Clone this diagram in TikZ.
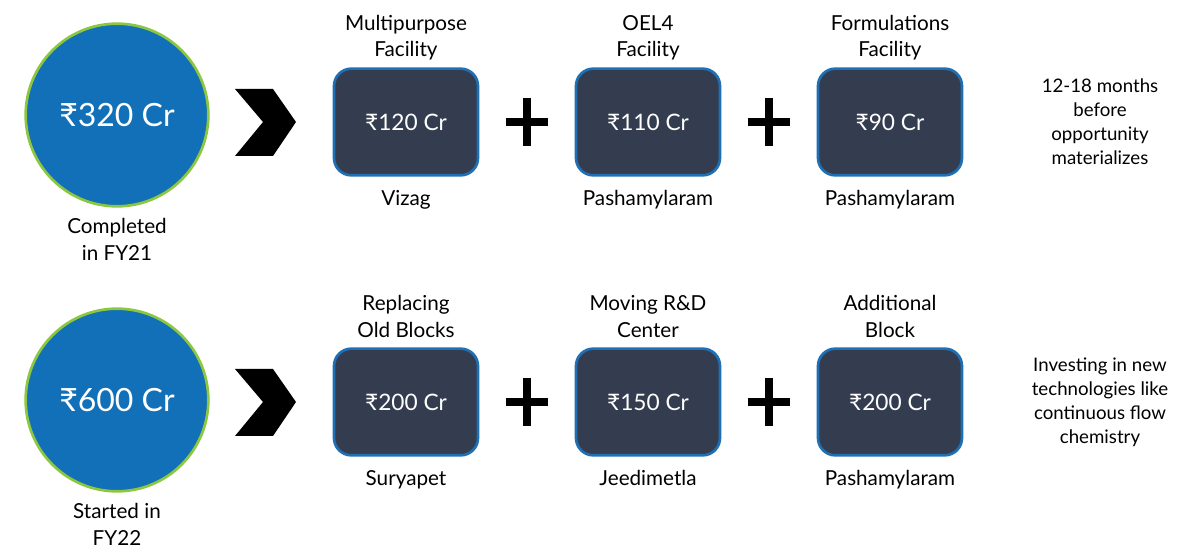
\documentclass[tikz,border=0pt]{standalone}
\usepackage{fontspec}
\setmainfont{Lato}
\usetikzlibrary{positioning}

\definecolor{capexblue}{HTML}{1170B8}
\definecolor{ringgreen}{HTML}{8DC63F}
\definecolor{boxfill}{HTML}{333D4F}
\definecolor{boxedge}{HTML}{1F6FB5}

\begin{document}
\begin{tikzpicture}
    [x=0.75pt,y=-0.75pt,
     total/.style={circle,draw=ringgreen,line width=2pt,fill=capexblue,minimum size=137pt,
       text=white,font=\fontsize{24}{28}\selectfont},
     plant/.style={rectangle,rounded corners=13pt,draw=boxedge,line width=2pt,fill=boxfill,
       minimum width=108pt,minimum height=80pt,text=white,font=\fontsize{17}{20}\selectfont},
     caption/.style={align=center,inner sep=0pt,font=\fontsize{15.5}{20}\selectfont},
     note/.style={align=center,inner sep=0pt,font=\fontsize{14}{18}\selectfont}]

    \useasboundingbox (0,0) rectangle (1200,559);

    % first row
    \node[total] (done) at (117,115) {₹320 Cr};
    \node[caption] (donelbl) [below=8pt of done] {Completed\\in FY21};

    \node[plant] (mpf) at (406,122) {₹120 Cr};
    \node[caption] (mpftop) [above=5pt of mpf] {Multipurpose\\Facility};
    \node[caption] (mpfloc) [below=10pt of mpf] {Vizag};

    \node[plant] (oel) at (648,122) {₹110 Cr};
    \node[caption] (oeltop) [above=5pt of oel] {OEL4\\Facility};
    \node[caption] (oelloc) [below=10pt of oel] {Pashamylaram};

    \node[plant] (form) at (890,122) {₹90 Cr};
    \node[caption] (formtop) [above=5pt of form] {Formulations\\Facility};
    \node[caption] (formloc) [below=10pt of form] {Pashamylaram};

    \node[note] (wait) at (1100,122) {12-18 months\\before\\opportunity\\materializes};

    % second row
    \node[total] (start) at (117,400) {₹600 Cr};
    \node[caption] (startlbl) [below=8pt of start] {Started in\\FY22};

    \node[plant] (old) at (406,402) {₹200 Cr};
    \node[caption] (oldtop) [above=7pt of old] {Replacing\\Old Blocks};
    \node[caption] (oldloc) [below=10pt of old] {Suryapet};

    \node[plant] (rnd) at (648,402) {₹150 Cr};
    \node[caption] (rndtop) [above=7pt of rnd] {Moving R\&D\\Center};
    \node[caption] (rndloc) [below=10pt of rnd] {Jeedimetla};

    \node[plant] (addl) at (890,402) {₹200 Cr};
    \node[caption] (addltop) [above=7pt of addl] {Additional\\Block};
    \node[caption] (addlloc) [below=10pt of addl] {Pashamylaram};

    \node[note] (tech) at (1100,402) {Investing in new\\technologies like\\continuous flow\\chemistry};

    % chevrons and plus signs
    \foreach \y in {122,402} {
      \fill[black] (235,\y-33) -- (273,\y-33) -- (296,\y) -- (273,\y+34)
        -- (235,\y+34) -- (263,\y) -- cycle;
      \foreach \x in {527,769} {
        \fill[black] (\x-21,\y-4) rectangle (\x+21,\y+4);
        \fill[black] (\x-4,\y-24) rectangle (\x+4,\y+24);
      }
    }
\end{tikzpicture}
\end{document}
